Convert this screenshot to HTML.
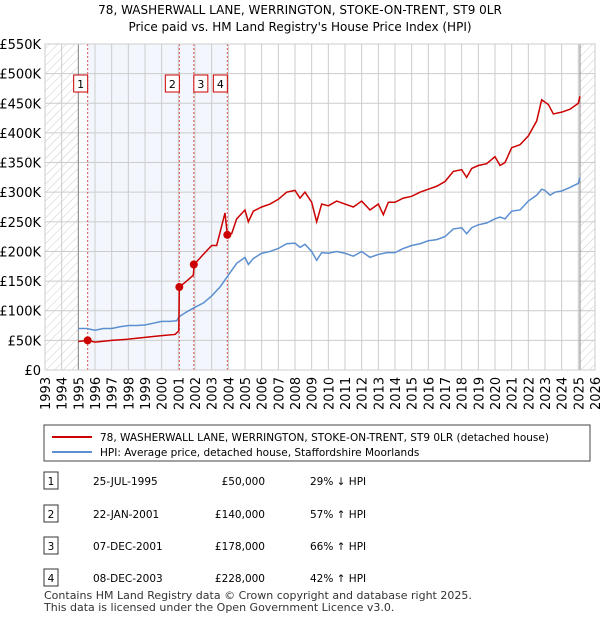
<!DOCTYPE html>
<html><head><meta charset="utf-8"><style>
body{margin:0;background:#fff;font-family:"Liberation Sans","DejaVu Sans",sans-serif;}
svg text{font-family:"DejaVu Sans","Liberation Sans",sans-serif;}
</style></head><body>
<svg id="c" width="600" height="620" xmlns="http://www.w3.org/2000/svg">
<defs><pattern id="hatch" width="6" height="6" patternUnits="userSpaceOnUse" patternTransform="rotate(45)"><line x1="0" y1="0" x2="0" y2="6" stroke="#ccc" stroke-width="1"/></pattern></defs>
<text x="300" y="14" text-anchor="middle" font-size="12">78, WASHERWALL LANE, WERRINGTON, STOKE-ON-TRENT, ST9 0LR</text>
<text x="300" y="31" text-anchor="middle" font-size="12">Price paid vs. HM Land Registry's House Price Index (HPI)</text>
<g id="plot"></g>
<rect x="44" y="425" width="546" height="36" fill="#fff" stroke="#444"/>
<line x1="52" y1="437" x2="92" y2="437" stroke="#cc0000" stroke-width="2"/>
<text x="100" y="441" font-size="10.5">78, WASHERWALL LANE, WERRINGTON, STOKE-ON-TRENT, ST9 0LR (detached house)</text>
<line x1="52" y1="452" x2="92" y2="452" stroke="#5b8fd0" stroke-width="2"/>
<text x="100" y="456" font-size="10.5">HPI: Average price, detached house, Staffordshire Moorlands</text>
<g id="table" font-size="10.5"></g>
<text x="44" y="599" font-size="11" fill="#333">Contains HM Land Registry data © Crown copyright and database right 2025.</text>
<text x="44" y="611" font-size="11" fill="#333">This data is licensed under the Open Government Licence v3.0.</text>
</svg>
<script>
const hpiT=[1995,1995.5,1996,1996.5,1997,1997.5,1998,1998.5,1999,1999.5,2000,2000.5,2000.9,2001.05,2001.5,2002,2002.5,2003,2003.5,2004,2004.5,2005,2005.2,2005.5,2006,2006.5,2007,2007.5,2008,2008.3,2008.6,2009,2009.3,2009.6,2010,2010.5,2011,2011.5,2012,2012.5,2013,2013.5,2014,2014.5,2015,2015.5,2016,2016.5,2017,2017.5,2018,2018.3,2018.6,2019,2019.5,2020,2020.3,2020.6,2021,2021.5,2022,2022.5,2022.8,2023,2023.3,2023.6,2024,2024.5,2025,2025.1];
const hpiV=[70,70,67,70,70,73,75,75,76,79,82,82,83,90,98,106,113,125,140,160,180,190,178,188,197,200,205,213,214,207,212,200,185,198,197,200,197,192,200,190,195,198,198,205,210,213,218,220,225,238,240,230,240,245,248,255,258,255,268,270,285,295,305,303,295,300,302,308,315,325];
const ppT=[1995,1995.56,1996,1997,1998,1999,2000,2000.8,2001.03,2001.06,2001.5,2001.9,2001.95,2002.5,2003,2003.3,2003.8,2003.94,2004.2,2004.5,2005,2005.2,2005.5,2006,2006.5,2007,2007.5,2008,2008.3,2008.6,2009,2009.3,2009.6,2010,2010.5,2011,2011.5,2012,2012.5,2013,2013.3,2013.6,2014,2014.5,2015,2015.5,2016,2016.5,2017,2017.5,2018,2018.3,2018.6,2019,2019.5,2020,2020.3,2020.6,2021,2021.5,2022,2022.5,2022.8,2023.2,2023.5,2024,2024.5,2025,2025.1];
const ppV=[48,50,47,50,52,55,58,60,66,140,150,160,178,195,210,210,265,228,230,255,270,250,268,275,280,288,300,303,290,300,283,250,280,277,285,280,275,285,270,280,262,283,283,290,293,300,305,310,318,335,338,325,340,345,348,360,345,350,375,380,395,420,456,448,432,435,440,450,462];
const saleT=[1995.56,2001.06,2001.93,2003.94];
const saleV=[50,140,178,228];
const saleLabels=["1","2","3","4"];
const saleDates=["25-JUL-1995","22-JAN-2001","07-DEC-2001","08-DEC-2003"];
const salePrices=["£50,000","£140,000","£178,000","£228,000"];
const saleHpi=["29% ↓ HPI","57% ↑ HPI","66% ↑ HPI","42% ↑ HPI"];
const yTicks=[0,50,100,150,200,250,300,350,400,450,500,550];
const yLabels=["£0","£50K","£100K","£150K","£200K","£250K","£300K","£350K","£400K","£450K","£500K","£550K"];
const xYears=[1993,1994,1995,1996,1997,1998,1999,2000,2001,2002,2003,2004,2005,2006,2007,2008,2009,2010,2011,2012,2013,2014,2015,2016,2017,2018,2019,2020,2021,2022,2023,2024,2025,2026];
const NS="http://www.w3.org/2000/svg";
const X=t=>45+(t-1993)*550/33, Y=v=>370-v*326/550;
const g=document.getElementById('plot');
function mk(tag,a,p){const e=document.createElementNS(NS,tag);for(const k in a)e.setAttribute(k,a[k]);(p||g).appendChild(e);return e;}
let e;
e=mk('rect',{x:X(1995.56),y:44,width:X(2003.94)-X(1995.56),height:326,fill:'#eef3fc',opacity:0.7});

e=mk('rect',{x:45,y:44,width:X(1995)-45,height:326,fill:'url(#hatch)'});

e=mk('rect',{x:X(2025.1),y:44,width:595-X(2025.1),height:326,fill:'url(#hatch)'});

yTicks.forEach((v,i)=>{
 e=mk('line',{x1:45,x2:595,y1:Y(v),y2:Y(v),stroke:'#ccc'});
 
 e=mk('text',{x:41,y:Y(v)+5,'text-anchor':'end','font-size':13});e.textContent=yLabels[i];
 
});
xYears.forEach(yr=>{
 e=mk('line',{x1:X(yr),x2:X(yr),y1:44,y2:370,stroke:'#ccc'});
 
 e=mk('text',{x:0,y:0,'font-size':13,transform:`translate(${X(yr)+5},410) rotate(-90)`});e.textContent=yr;
 
});
e=mk('line',{x1:X(1995),x2:X(1995),y1:44,y2:370,stroke:'#888'});

e=mk('line',{x1:X(2025.1),x2:X(2025.1),y1:44,y2:370,stroke:'#888'});

saleT.forEach((t,i)=>{
 e=mk('line',{x1:X(t),x2:X(t),y1:44,y2:370,stroke:'#e05050','stroke-dasharray':'2,2'});
 
});
const labX=[X(saleT[0])-7,X(saleT[1])-7,X(saleT[2])+7,X(saleT[3])-7];
saleLabels.forEach((l,i)=>{
 e=mk('rect',{x:labX[i]-7,y:75,width:14,height:17,fill:'#fff',stroke:'#cc0000'});
 
 e=mk('text',{x:labX[i],y:88,'text-anchor':'middle','font-size':11});e.textContent=l;
 
});
e=mk('polyline',{points:hpiT.map((t,i)=>X(t)+','+Y(hpiV[i])).join(' '),fill:'none',stroke:'#5b8fd0','stroke-width':1.5});

e=mk('polyline',{points:ppT.map((t,i)=>X(t)+','+Y(ppV[i])).join(' '),fill:'none',stroke:'#cc0000','stroke-width':1.5});

saleT.forEach((t,i)=>{
 e=mk('circle',{cx:X(t),cy:Y(saleV[i]),r:4,fill:'#cc0000'});
 
});
e=mk('rect',{x:45,y:44,width:550,height:326,fill:'none',stroke:'#ccc'});

const tb=document.getElementById('table');
const rowY=[481,514,546,578];
saleLabels.forEach((l,i)=>{
 const y=rowY[i];
 e=mk('rect',{x:44,y:y-9,width:14,height:17,fill:'#fff',stroke:'#333'},tb);
 
 e=mk('text',{x:51,y:y+4,'text-anchor':'middle'},tb);e.textContent=l;
 
 e=mk('text',{x:93,y:y+4},tb);e.textContent=saleDates[i];
 
 e=mk('text',{x:265,y:y+4,'text-anchor':'end'},tb);e.textContent=salePrices[i];
 
 e=mk('text',{x:310,y:y+4},tb);e.textContent=saleHpi[i];
 
});
</script>
</body></html>
